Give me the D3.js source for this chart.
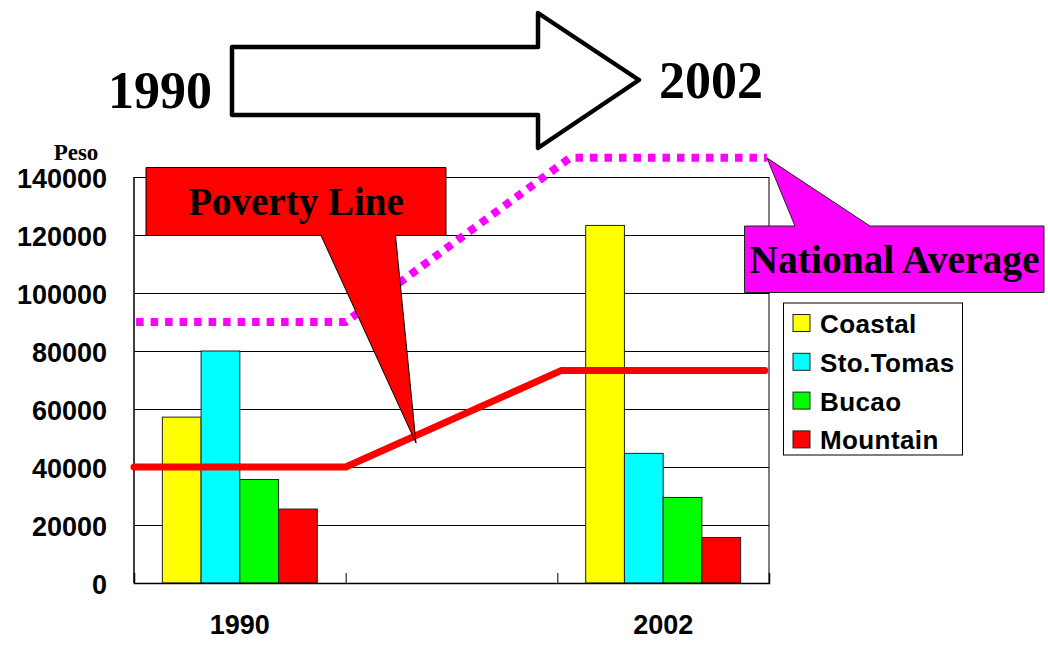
<!DOCTYPE html>
<html>
<head>
<meta charset="utf-8">
<script src="https://cdn.jsdelivr.net/npm/d3@7"></script>
<style>
 body { margin: 0; background: #fff; }
 .serif { font-family: "Liberation Serif", "Times New Roman", serif; font-weight: bold; }
 .sans { font-family: "Liberation Sans", Arial, sans-serif; font-weight: bold; }
</style>
</head>
<body>
<svg width="1048" height="653"></svg>
<script>
// Data
var years = ["1990", "", "2002"];           // middle slot stays empty
var series = ["Coastal", "Sto.Tomas", "Bucao", "Mountain"];
var colors = ["#ffff00", "#00ffff", "#00ff00", "#ff0000"];
var income1990 = [57200, 80000, 35700, 25500];
var income2002 = [123300, 44700, 29500, 15700];
var povertyLine = [40000, 40000, 73300, 73300];
var povertyAt = [0, 1, 2.02, 2.98];         // position along the year slots
var nationalAvg = [90000, 90000, 146600, 146600];
var nationalAt = [0.01, 1.0, 2.06, 2.99];
var yTicks = [0, 20000, 40000, 60000, 80000, 100000, 120000, 140000];

var svg = d3.select("svg");
var plotL = 134, plotR = 769, plotT = 177, plotB = 583;

// scales
var y = d3.scaleLinear().domain([0, 140000]).range([plotB, plotT]);
var x = d3.scaleBand().domain(years).range([plotL, plotR]);
var xb = d3.scaleLinear().domain([0, 3]).range([plotL, plotR]);
var groupW = x.bandwidth() * 0.732;
var xs = d3.scaleBand().domain(series).range([0, groupW]);

// gridlines + y labels
var yAxis = svg.append("g")
 .attr("transform", "translate(" + plotL + ",0)")
 .call(d3.axisLeft(y).tickValues(yTicks).tickSize(-(plotR - plotL)).tickPadding(27).tickFormat(d3.format("d")));
yAxis.select(".domain").remove();
yAxis.selectAll(".tick line").attr("stroke", "#000").attr("stroke-width", 1);
yAxis.selectAll(".tick text")
 .attr("class", "sans")
 .style("font-size", "27px")
 .attr("fill", "#000")
 .attr("dy", "0.38em");

// plot frame
svg.append("line").attr("x1", plotR).attr("x2", plotR).attr("y1", plotT).attr("y2", plotB)
 .attr("stroke", "#000").attr("stroke-width", 1);
svg.append("line").attr("x1", plotL).attr("x2", plotL).attr("y1", plotT).attr("y2", plotB)
 .attr("stroke", "#000").attr("stroke-width", 1.5);

// bars
var bars = [];
series.forEach(function (s, i) {
 bars.push({ year: "1990", s: s, v: income1990[i], c: colors[i] });
 bars.push({ year: "2002", s: s, v: income2002[i], c: colors[i] });
});
svg.append("g").selectAll("rect")
 .data(bars)
 .enter().append("rect")
 .attr("x", function (d) { return x(d.year) + (x.bandwidth() - groupW) / 2 + xs(d.s); })
 .attr("y", function (d) { return y(d.v); })
 .attr("width", xs.bandwidth())
 .attr("height", function (d) { return y(0) - y(d.v); })
 .attr("fill", function (d) { return d.c; })
 .attr("stroke", "#222")
 .attr("stroke-width", 1);

// x axis with inner ticks at slot boundaries
var xAxis = svg.append("g")
 .attr("transform", "translate(0," + plotB + ")")
 .call(d3.axisBottom(xb).tickValues([1, 2]).tickSize(-10).tickFormat(""));
xAxis.select(".domain").attr("stroke", "#000").attr("stroke-width", 1.5);
xAxis.selectAll(".tick line").attr("stroke", "#000").attr("stroke-width", 1);

svg.append("g").selectAll("text")
 .data(years.filter(function (d) { return d !== ""; }))
 .enter().append("text")
 .attr("class", "sans")
 .style("font-size", "27px")
 .attr("text-anchor", "middle")
 .attr("x", function (d) { return x(d) + x.bandwidth() / 2; })
 .attr("y", 634)
 .text(function (d) { return d; });

// poverty line
var line = d3.line().x(function (d) { return xb(d[0]); }).y(function (d) { return y(d[1]); });
svg.append("path")
 .datum(d3.zip(povertyAt, povertyLine))
 .attr("d", line)
 .attr("fill", "none")
 .attr("stroke", "#ff0000")
 .attr("stroke-width", 7)
 .attr("stroke-linecap", "round")
 .attr("stroke-linejoin", "round");

// national average (dotted)
svg.append("path")
 .datum(d3.zip(nationalAt, nationalAvg))
 .attr("d", line)
 .attr("fill", "none")
 .attr("stroke", "#ff00ff")
 .attr("stroke-width", 8)
 .attr("stroke-dasharray", "7.5 7");

// "Peso" unit label
svg.append("text").attr("class", "serif").style("font-size", "23px")
 .attr("x", 76).attr("y", 160).attr("text-anchor", "middle").text("Peso");

// callout: poverty line
svg.append("path")
 .attr("d", "M146,167.5 L446,167.5 L446,235.5 L395.5,235.5 L416,443 L321,235.5 L146,235.5 Z")
 .attr("fill", "#ff0000").attr("stroke", "#000").attr("stroke-width", 1);
svg.append("text").attr("class", "serif").style("font-size", "39px")
 .attr("x", 296).attr("y", 215).attr("text-anchor", "middle").text("Poverty Line");

// callout: national average, tip on the end of the dotted line
var tipX = xb(nationalAt[3]), tipY = y(nationalAvg[3]);
svg.append("path")
 .attr("d", "M744.5,226 L795,226 L" + tipX + "," + tipY + " L870,226 L1044,226 L1044,292.5 L744.5,292.5 Z")
 .attr("fill", "#ff00ff").attr("stroke", "#222").attr("stroke-width", 1);
svg.append("text").attr("class", "serif").style("font-size", "39.5px")
 .attr("x", 894.5).attr("y", 273).attr("text-anchor", "middle").text("National Average");

// legend
var legend = svg.append("g");
legend.append("rect")
 .attr("x", 783.5).attr("y", 303).attr("width", 179).attr("height", 152)
 .attr("fill", "#fff").attr("stroke", "#000").attr("stroke-width", 1);
var item = legend.selectAll(".item")
 .data(series)
 .enter().append("g")
 .attr("transform", function (d, i) { return "translate(0," + (323 + i * 38.8) + ")"; });
item.append("rect")
 .attr("x", 793).attr("y", -8.5).attr("width", 17).attr("height", 17)
 .attr("fill", function (d, i) { return colors[i]; })
 .attr("stroke", "#222").attr("stroke-width", 1);
item.append("text")
 .attr("class", "sans")
 .style("font-size", "26px")
 .style("letter-spacing", "0.4px")
 .attr("x", 820).attr("y", 10)
 .text(function (d) { return d; });

// top: 1990 -> 2002 block arrow
svg.append("path")
 .attr("d", "M232,47 L538,47 L538,13 L639,80 L538,148 L538,115 L232,115 Z")
 .attr("fill", "#fff").attr("stroke", "#000").attr("stroke-width", 4.5)
 .attr("stroke-linejoin", "round");
svg.append("text").attr("class", "serif").style("font-size", "52px")
 .attr("x", 160).attr("y", 108).attr("text-anchor", "middle").text("1990");
svg.append("text").attr("class", "serif").style("font-size", "52px")
 .attr("x", 711).attr("y", 98).attr("text-anchor", "middle").text("2002");
</script>
</body>
</html>
